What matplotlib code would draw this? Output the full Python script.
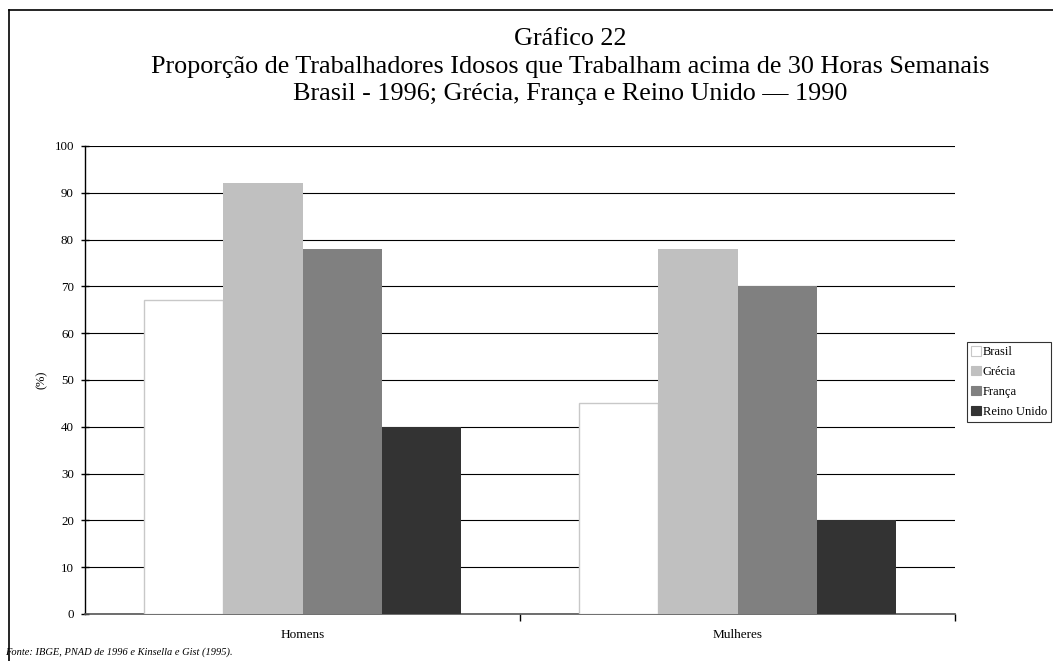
import matplotlib
matplotlib.use("Agg")
import matplotlib.pyplot as plt
import numpy as np
from matplotlib.patches import Patch
from matplotlib.lines import Line2D

categories = ["Homens", "Mulheres"]
series = ["Brasil", "Grécia", "França", "Reino Unido"]
brasil = [67.2, 45]
grecia = [92, 78]
franca = [78, 70]
reino_unido = [40, 20]
yticks = [0, 10, 20, 30, 40, 50, 60, 70, 80, 90, 100]

values = [brasil, grecia, franca, reino_unido]
colors = ["#ffffff", "#c0c0c0", "#808080", "#333333"]
edges = ["#c8c8c8", "none", "none", "none"]

plt.rcParams['font.family'] = ['Liberation Serif', 'DejaVu Serif']

fig = plt.figure(figsize=(10.53, 6.61), dpi=100)
ax = fig.add_axes([85/1053, 1-614/661, (955-85)/1053, (614-146)/661])

x = np.arange(len(categories))
w = 0.182
for i, (vals, c, e) in enumerate(zip(values, colors, edges)):
    ax.bar(x + (i - 1.5) * w, vals, width=w, color=c, edgecolor=e,
           linewidth=1.0, zorder=3, label=series[i])

ax.set_xlim(-0.5, 1.5)
ax.set_ylim(0, 100)
ax.set_yticks(yticks)
ax.set_yticklabels([str(t) for t in yticks], fontsize=9.3)
ax.yaxis.grid(True, color="black", linewidth=0.8, zorder=0)
ax.set_axisbelow(True)
ax.set_xticks([0.5, 1.5])
ax.set_xticklabels([])
ax.set_xticks([0, 1], minor=True)
ax.set_xticklabels(categories, minor=True, fontsize=9.5)
ax.tick_params(axis='x', which='minor', length=0, pad=11)
ax.tick_params(axis='x', which='major', length=5, direction='out', width=1)
ax.tick_params(axis='y', length=6, direction='inout', width=1, pad=5)
for s in ["top", "right"]:
    ax.spines[s].set_visible(False)
ax.spines["left"].set_color("black")
ax.spines["bottom"].set_color("#555555")
ax.spines["left"].set_linewidth(1)
ax.spines["bottom"].set_linewidth(1.2)
ax.set_ylabel("(%)", fontsize=9, labelpad=5)

handles = [Patch(facecolor=c, edgecolor=(e if e != "none" else c), linewidth=0.8) for c, e in zip(colors, edges)]
leg = fig.legend(handles, series, loc="upper left", bbox_to_anchor=(967/1053, 1-342/661),
                 fontsize=9, frameon=True, fancybox=False, edgecolor="black",
                 handlelength=0.75, handleheight=0.75, handletextpad=0.15,
                 borderpad=0.35, labelspacing=0.62, borderaxespad=0)
leg.get_frame().set_linewidth(0.8)

cx = 570/1053
fig.text(cx, 1-39/661, "Gráfico 22", ha="center", va="center", fontsize=18.8)
fig.text(cx, 1-67/661,
         "Proporção de Trabalhadores Idosos que Trabalham acima de 30 Horas Semanais",
         ha="center", va="center", fontsize=18.8)
fig.text(cx, 1-94/661,
         "Brasil - 1996; Grécia, França e Reino Unido — 1990",
         ha="center", va="center", fontsize=18.8)

fig.text(5/1053, 1-652/661, "Fonte: IBGE, PNAD de 1996 e Kinsella e Gist (1995).",
         ha="left", va="center", fontsize=7.5, style="italic")

fig.add_artist(Line2D([9/1053, 9/1053], [0, 1-10/661], transform=fig.transFigure, color="black", linewidth=1.2))
fig.add_artist(Line2D([9/1053, 1], [1-10/661, 1-10/661], transform=fig.transFigure, color="black", linewidth=1.2))

fig.savefig("out.png", dpi=100)
